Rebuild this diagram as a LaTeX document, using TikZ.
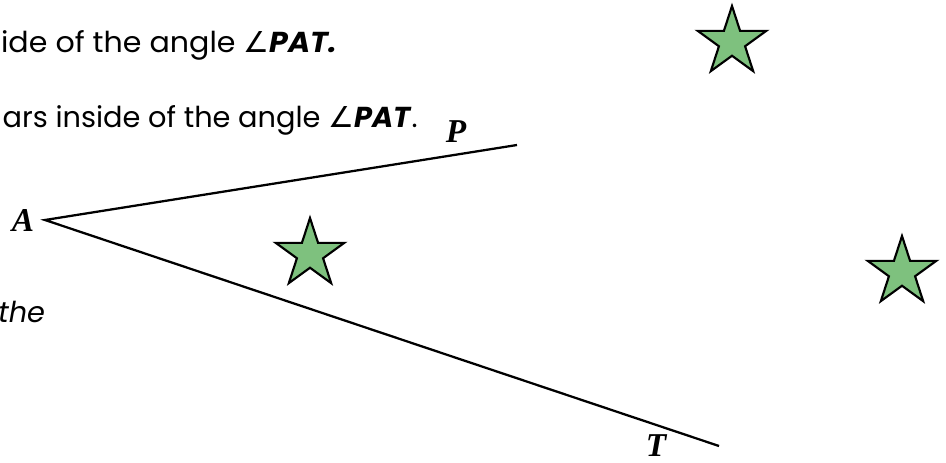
\documentclass[tikz,border=0pt]{standalone}
\usepackage{fontspec}
\setmainfont{Poppins}
\newfontfamily\symfont{DejaVu Sans}
\newfontfamily\lblfont{Liberation Serif}
\newfontfamily\widefont[FakeStretch=1.045]{Poppins}
\usetikzlibrary{shapes.geometric}
\definecolor{stargreen}{RGB}{126,193,126}
\tikzset{
  ray/.style={line width=1.7pt, black},
  starshape/.style={star, star points=5, star point ratio=2.618, fill=stargreen, draw=black, line width=1.6pt, minimum size=54pt, inner sep=0pt},
  lbl/.style={font=\lblfont\bfseries\itshape\fontsize{25}{29}\selectfont, inner sep=0pt},
  txt/.style={font=\fontsize{21.6}{26}\selectfont, inner sep=0pt}
}
\begin{document}
\begin{tikzpicture}[x=0.75pt, y=-0.75pt]
\useasboundingbox (0,0) rectangle (946,463);
\clip (0,0) rectangle (946,463);
% text fragments
\node[txt, anchor=base east] (t1) at (337,53) {\widefont ide of the angle {\symfont∠}\textbf{\textit{PAT.}}};
\node[txt, anchor=base east] (t2) at (418,128) {ars inside of the angle {\symfont∠}\textbf{\textit{PAT}}.};
\node[txt, anchor=base west] (t3) at (-2,323) {\textit{the}};
% angle
\coordinate (A) at (45,220);
\coordinate (Pend) at (517,145);
\coordinate (Tend) at (719,446);
\draw[ray] (Pend) -- (A) -- (Tend);
\node[lbl] (lA) at (23,220) {A};
\node[lbl] (lP) at (456,132) {P};
\node[lbl] (lT) at (656,446) {T};
% stars
\node[starshape] (s1) at (732,42) {};
\node[starshape] (s2) at (310,254) {};
\node[starshape] (s3) at (902,272) {};
\end{tikzpicture}
\end{document}
